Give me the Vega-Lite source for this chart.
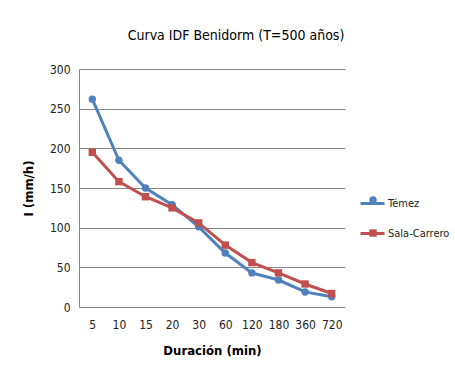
{
  "$schema": "https://vega.github.io/schema/vega-lite/v6.json",
  "width": 266,
  "height": 238,
  "autosize": {"type": "none"},
  "padding": {"left": 79, "top": 69, "right": 110, "bottom": 72},
  "background": "white",
  "title": {
    "text": "Curva IDF Benidorm (T=500 años)",
    "font": "DejaVu Sans Condensed",
    "fontSize": 14,
    "fontWeight": "normal",
    "color": "#000000",
    "anchor": "middle",
    "dx": 24,
    "offset": 20
  },
  "data": {
    "values": [
      {"d": "5", "serie": "Témez", "i": 262},
      {"d": "10", "serie": "Témez", "i": 185},
      {"d": "15", "serie": "Témez", "i": 150},
      {"d": "20", "serie": "Témez", "i": 129},
      {"d": "30", "serie": "Témez", "i": 101},
      {"d": "60", "serie": "Témez", "i": 68},
      {"d": "120", "serie": "Témez", "i": 43},
      {"d": "180", "serie": "Témez", "i": 34},
      {"d": "360", "serie": "Témez", "i": 19},
      {"d": "720", "serie": "Témez", "i": 13},
      {"d": "5", "serie": "Sala-Carrero", "i": 195},
      {"d": "10", "serie": "Sala-Carrero", "i": 158},
      {"d": "15", "serie": "Sala-Carrero", "i": 139},
      {"d": "20", "serie": "Sala-Carrero", "i": 125},
      {"d": "30", "serie": "Sala-Carrero", "i": 106},
      {"d": "60", "serie": "Sala-Carrero", "i": 78},
      {"d": "120", "serie": "Sala-Carrero", "i": 56},
      {"d": "180", "serie": "Sala-Carrero", "i": 43},
      {"d": "360", "serie": "Sala-Carrero", "i": 29},
      {"d": "720", "serie": "Sala-Carrero", "i": 17}
    ]
  },
  "encoding": {
    "x": {
      "field": "d",
      "type": "ordinal",
      "sort": null,
      "scale": {"type": "point", "padding": 0.5},
      "axis": {
        "title": "Duración (min)",
        "labelAngle": 0,
        "labelFont": "DejaVu Sans Condensed",
        "labelFontSize": 12,
        "labelColor": "#222222",
        "labelPadding": 12,
        "ticks": false,
        "domain": false,
        "grid": false,
        "titleFont": "DejaVu Sans Condensed",
        "titleFontSize": 13,
        "titleFontWeight": "bold",
        "titleColor": "#000000",
        "titlePadding": 14
      }
    },
    "y": {
      "field": "i",
      "type": "quantitative",
      "scale": {"domain": [0, 300], "nice": false},
      "axis": {
        "title": "I (mm/h)",
        "values": [0, 50, 100, 150, 200, 250, 300],
        "labelFont": "DejaVu Sans Condensed",
        "labelFontSize": 12,
        "labelColor": "#222222",
        "labelPadding": 9,
        "ticks": false,
        "domain": true,
        "domainColor": "#868686",
        "gridColor": "#868686",
        "gridWidth": 1,
        "titleFont": "DejaVu Sans Condensed",
        "titleFontSize": 13,
        "titleFontWeight": "bold",
        "titleColor": "#000000",
        "titlePadding": 14
      }
    }
  },
  "layer": [
    {
      "mark": {"type": "line", "strokeWidth": 3},
      "encoding": {
        "stroke": {
          "field": "serie",
          "type": "nominal",
          "sort": ["Témez", "Sala-Carrero"],
          "scale": {"range": ["#4F81BD", "#C0504D"]},
          "legend": {
            "title": null,
            "orient": "none",
            "legendX": 280,
            "legendY": 121,
            "symbolType": "stroke",
            "symbolStrokeWidth": 3,
            "symbolSize": 576,
            "rowPadding": 10,
            "labelOffset": 2,
            "labelLimit": 200,
            "labelFont": "DejaVu Sans Condensed",
            "labelFontSize": 11,
            "labelColor": "#222222"
          }
        }
      }
    },
    {
      "mark": {"type": "point", "filled": true, "opacity": 1, "size": 55},
      "encoding": {
        "color": {
          "field": "serie",
          "type": "nominal",
          "scale": {"domain": ["Témez", "Sala-Carrero"], "range": ["#4F81BD", "#C0504D"]},
          "legend": {
            "title": null,
            "orient": "none",
            "legendX": 288,
            "legendY": 125,
            "symbolSize": 55,
            "rowPadding": 19,
            "labelFontSize": 12,
            "labelExpr": "''",
            "symbolOpacity": 1
          }
        },
        "shape": {
          "field": "serie",
          "type": "nominal",
          "scale": {"domain": ["Témez", "Sala-Carrero"], "range": ["circle", "square"]}
        }
      }
    }
  ],
  "config": {"view": {"stroke": null}}
}
